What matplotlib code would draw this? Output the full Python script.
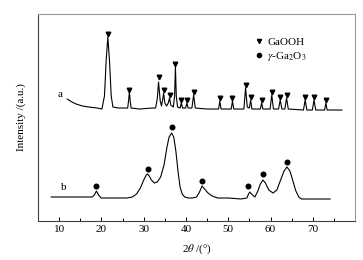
import matplotlib
matplotlib.use("Agg")
import matplotlib.pyplot as plt
from matplotlib.lines import Line2D

plt.rcParams["font.family"] = ["Liberation Serif", "DejaVu Serif"]
plt.rcParams["mathtext.fontset"] = "stix"

# --- curve a (GaOOH precursor), 2theta vs intensity (a.u.) ---
a_2theta = [11.9, 13.0, 14.0, 15.5, 17.0, 19.0, 20.1, 20.7, 21.1, 21.5, 21.9, 22.3, 22.7,
            24.0, 26.2, 26.4, 26.6, 26.8, 27.0, 29.0, 32.0, 32.8, 33.2, 33.5, 33.9, 34.2,
            34.5, 34.7, 35.0, 35.4, 35.8, 36.1, 36.4, 37.0, 37.3, 37.5, 37.7, 38.0, 38.6,
            38.9, 39.2, 39.9, 40.2, 40.5, 41.4, 41.8, 42.2, 45.0, 47.7, 48.0, 48.3, 50.7,
            51.0, 51.3, 53.7, 54.1, 54.5, 55.0, 55.3, 55.6, 57.6, 57.9, 58.2, 59.9, 60.3,
            60.7, 61.9, 62.3, 62.7, 63.4, 63.8, 64.2, 67.8, 68.2, 68.6, 69.9, 70.3, 70.7,
            72.8, 73.1, 73.4, 76.9]
a_int = [122, 119, 117, 115, 114, 113, 112, 125, 160, 184, 160, 125, 114,
         113, 113, 120, 129, 120, 113, 112, 113, 113, 122, 139, 120, 115,
         122, 128, 118, 115, 118, 123, 116, 114, 125, 154, 125, 114, 113,
         118, 113, 113, 118, 113, 113, 126, 113, 112, 112, 120, 112, 112,
         120, 112, 112, 133, 114, 113, 121, 112, 112, 118, 112, 112, 126,
         112, 112, 121, 112, 112, 123, 112, 111, 121, 111, 111, 121, 111,
         111, 118, 111, 111]

# GaOOH reflections (triangle markers)
gaooh_2theta = [21.5, 26.6, 33.5, 34.7, 36.1, 37.5, 38.9, 40.2, 41.8, 48.0,
                51.0, 54.1, 55.3, 57.9, 60.3, 62.3, 63.8, 68.2, 70.3, 73.1]
gaooh_mark = [187, 131, 144, 131, 126, 157, 121, 121, 129, 123,
              123, 136, 124, 121, 129, 124, 126, 124, 124, 121]

# --- curve b (gamma-Ga2O3) ---
b_2theta = [8.1, 12.0, 17.8, 18.3, 18.8, 19.3, 19.9, 22.0, 26.0, 27.3, 28.3, 29.2,
            30.0, 30.6, 30.9, 31.3, 31.8, 32.5, 33.2, 34.0, 34.8, 35.5, 36.0, 36.6,
            37.1, 37.6, 38.1, 38.6, 39.1, 39.7, 40.5, 41.5, 42.5, 43.2, 43.8, 44.4,
            45.2, 46.2, 47.5, 50.0, 53.0, 54.4, 54.8, 55.1, 55.5, 56.3, 57.0, 57.6,
            58.2, 58.8, 59.6, 60.6, 61.5, 62.3, 63.2, 63.9, 64.6, 65.3, 66.0, 66.7,
            67.3, 70.0, 74.1]
b_int = [24, 24, 24, 26, 30, 26, 23, 23, 23, 24, 27, 33,
         41, 46, 47, 45, 41, 38, 39, 44, 56, 74, 84, 88,
         84, 70, 50, 34, 27, 24, 23, 23, 24, 29, 35, 32,
         28, 25, 23, 23, 22, 23, 27, 29, 27, 24, 30, 37,
         41, 38, 31, 28, 31, 40, 50, 54, 50, 40, 30, 24,
         22, 22, 22]

# gamma-Ga2O3 reflections (dot markers)
ga2o3_2theta = [18.8, 30.9, 36.6, 43.8, 54.7, 58.2, 63.9]
ga2o3_mark = [35, 52, 94, 40, 35, 47, 59]

fig = plt.figure(figsize=(3.63, 2.60), dpi=100)
ax = fig.add_axes([0.105, 0.15, 0.873, 0.796])

ax.plot(a_2theta, a_int, color="black", lw=0.8)
ax.plot(b_2theta, b_int, color="black", lw=0.8)
ax.plot(gaooh_2theta, gaooh_mark, "v", color="black", ms=3.3, ls="none")
ax.plot(ga2o3_2theta, ga2o3_mark, "o", color="black", ms=3.3, ls="none")

ax.text(10.3, 127, "a", fontsize=8, ha="center", va="center")
ax.text(11.0, 34, "b", fontsize=8, ha="center", va="center")

handles = [Line2D([], [], marker="v", color="black", ls="none", ms=3.0),
           Line2D([], [], marker="o", color="black", ls="none", ms=3.0)]
ax.legend(handles, ["GaOOH", r"$\gamma$-Ga$_2$O$_3$"], loc="upper left",
          bbox_to_anchor=(0.67, 0.915), frameon=False, fontsize=8,
          handlelength=0.6, handletextpad=0.4, labelspacing=0.25, borderpad=0)

ax.set_xlim(5, 80)
ax.set_ylim(0, 207)
ax.set_xticks([10, 20, 30, 40, 50, 60, 70])
ax.set_xticks([15, 25, 35, 45, 55, 65, 75], minor=True)
ax.set_yticks([])
ax.tick_params(axis="x", which="both", direction="in", top=False, labelsize=8, pad=3)
ax.tick_params(axis="x", which="major", length=3, width=0.7)
ax.tick_params(axis="x", which="minor", length=2, width=0.7)
for side in ["left", "bottom"]:
    ax.spines[side].set_color("0.25")
    ax.spines[side].set_linewidth(0.8)
for side in ["top", "right"]:
    ax.spines[side].set_color("0.6")
    ax.spines[side].set_linewidth(0.8)

ax.set_xlabel(r"2$\theta$ /(°)", fontsize=8, labelpad=6)
ax.set_ylabel("Intensity /(a.u.)", fontsize=8, labelpad=9)

fig.savefig("out.png", dpi=100)
